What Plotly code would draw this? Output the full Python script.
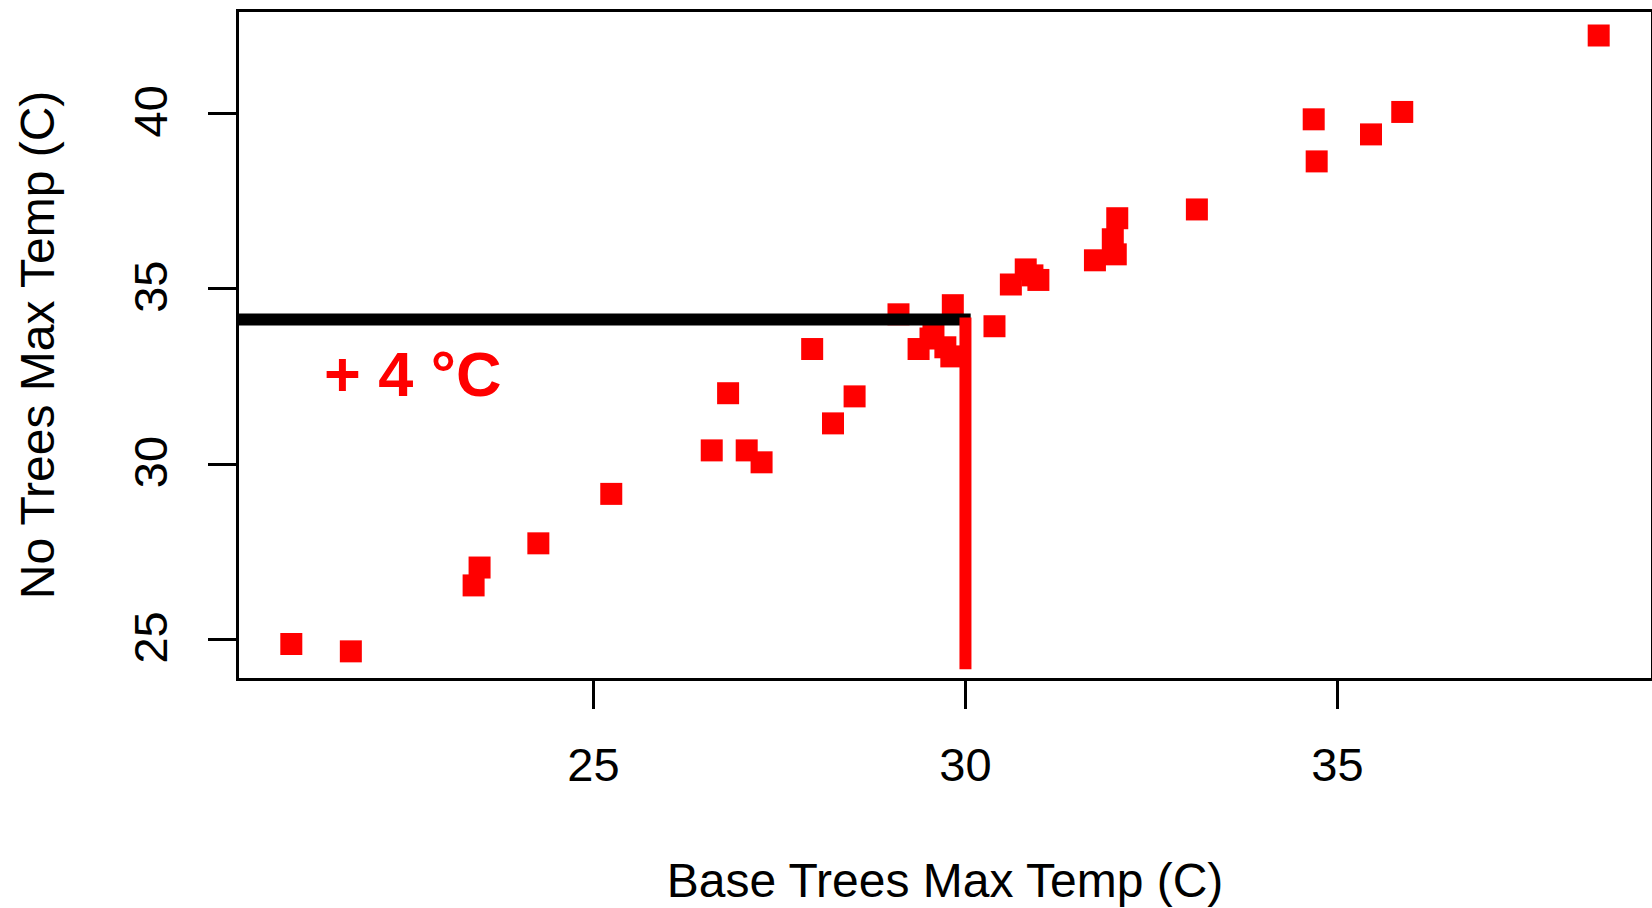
import plotly.graph_objects as go

# Data
base_trees_max = [20.94, 21.74, 23.39, 23.47, 24.26, 25.24, 26.59, 26.81, 27.06, 27.26,
                  27.94, 28.22, 28.51, 29.10, 29.83, 29.37, 29.73, 29.81, 29.57, 29.53,
                  30.39, 30.61, 30.81, 30.90, 30.98, 31.74, 32.02, 31.98, 32.04, 33.11,
                  34.68, 34.72, 35.45, 35.87, 38.51]
no_trees_max = [24.87, 24.66, 26.54, 27.05, 27.74, 29.15, 30.39, 32.02, 30.39, 30.05,
                33.28, 31.16, 31.93, 34.27, 34.53, 33.28, 33.33, 33.07, 33.88, 33.58,
                33.93, 35.12, 35.55, 35.38, 35.25, 35.81, 35.98, 36.41, 37.01, 37.26,
                39.83, 38.63, 39.40, 40.04, 42.22]

hline_x = [0.0, 30.07]
hline_y = [34.12, 34.12]
vline_x = [30.0, 30.0]
vline_y = [34.18, 24.15]

label_text = "+ 4 °C"
label_x = 22.58
label_y = 32.555

x_ticks = [25, 30, 35]
y_ticks = [25, 30, 35, 40]
x_range = [20.237, 39.213]
y_range = [23.90, 42.89]

FONT = "Arial, 'Liberation Sans', sans-serif"

fig = go.Figure()
fig.add_trace(go.Scatter(
    x=base_trees_max, y=no_trees_max, mode="markers",
    marker=dict(symbol="square", size=22, color="#FF0000", line=dict(width=0)),
    showlegend=False, hoverinfo="skip"))
fig.add_trace(go.Scatter(
    x=hline_x, y=hline_y, mode="lines",
    line=dict(color="black", width=12), showlegend=False, hoverinfo="skip"))
fig.add_trace(go.Scatter(
    x=vline_x, y=vline_y, mode="lines",
    line=dict(color="#FF0000", width=12), showlegend=False, hoverinfo="skip"))

fig.add_annotation(x=label_x, y=label_y, text=f"<b>{label_text}</b>", showarrow=False,
                   xanchor="center", yanchor="middle",
                   font=dict(family=FONT, size=63, color="#FF0000"))

axis_common = dict(showgrid=False, zeroline=False, showline=True, mirror=True,
                   linecolor="black", linewidth=3, ticks="outside", ticklen=28,
                   tickwidth=3, tickcolor="black",
                   tickfont=dict(family=FONT, size=47, color="black"))

fig.update_xaxes(range=x_range, tickvals=x_ticks, ticktext=[str(v) for v in x_ticks],
                 ticklabelstandoff=16,
                 title=dict(text="Base Trees Max Temp (C)", standoff=73,
                            font=dict(family=FONT, size=48, color="black")),
                 **axis_common)
fig.update_yaxes(range=y_range, tickvals=y_ticks, ticktext=[str(v) for v in y_ticks],
                 tickangle=-90, ticklabelstandoff=22, ticklabelshift=5,
                 title=dict(text="No Trees Max Temp (C)", standoff=55,
                            font=dict(family=FONT, size=48, color="black")),
                 **axis_common)

fig.update_layout(width=1652, height=908,
                  margin=dict(l=239, r=1, t=12, b=230, autoexpand=False),
                  plot_bgcolor="white", paper_bgcolor="white")

fig.write_html("out.html")
